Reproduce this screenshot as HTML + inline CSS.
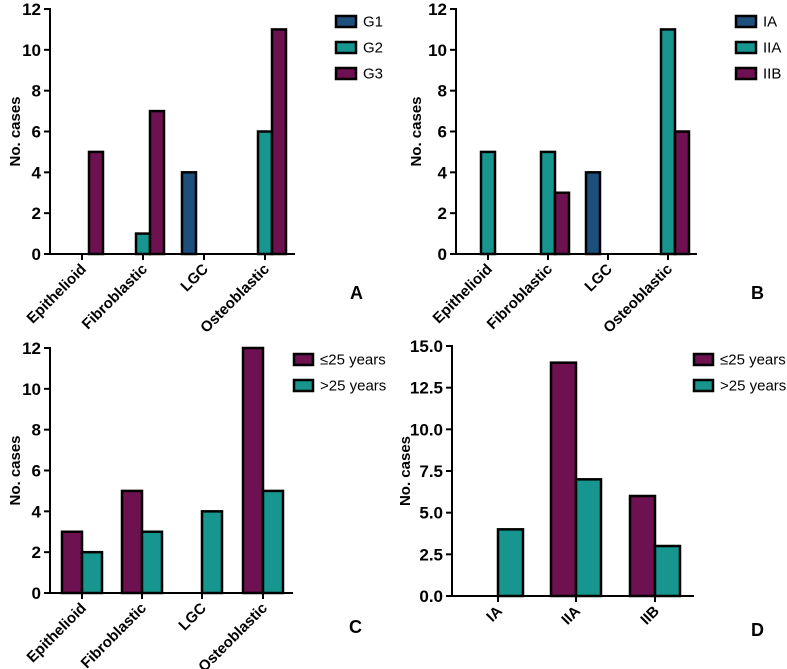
<!DOCTYPE html>
<html><head><meta charset="utf-8"><style>
html,body{margin:0;padding:0;background:#fff;}
svg{display:block;font-family:"Liberation Sans",Arial,sans-serif;}
</style></head><body>
<svg id="fig" width="787" height="669" viewBox="0 0 787 669"></svg>
<script>
const catsHist=["Epithelioid","Fibroblastic","LGC","Osteoblastic"];
const catsStage=["IA","IIA","IIB"];
const aNames=["G1","G2","G3"];
const aG1=[0,0,4,0];
const aG2=[0,1,0,6];
const aG3=[5,7,0,11];
const bNames=["IA","IIA","IIB"];
const bIA=[0,0,4,0];
const bIIA=[5,5,0,11];
const bIIB=[0,3,0,6];
const ageNames=["≤25 years",">25 years"];
const cYoung=[3,5,0,12];
const cOld=[2,3,4,5];
const dYoung=[0,14,6];
const dOld=[4,7,3];
const aTicks=[0,2,4,6,8,10,12];
const dTicks=["0.0","2.5","5.0","7.5","10.0","12.5","15.0"];

const BLUE="#1d4f7c",TEAL="#17968f",PURP="#6d1150";
const NS="http://www.w3.org/2000/svg";
const svg=document.getElementById('fig');
function el(tag,attrs,parent,text){const e=document.createElementNS(NS,tag);for(const k in attrs)e.setAttribute(k,attrs[k]);if(text!==undefined)e.textContent=text;(parent||svg).appendChild(e);return e;}

function panel(p){
  const g=el('g',{});
  
  
  const yS=v=>p.y0-(v/p.ymax)*(p.y0-p.ytop);
  p.series.forEach((s,si)=>{
    s.vals.forEach((v,ci)=>{
      if(v<=0)return;
      const x=p.ticks[ci]+p.offsets[si];
      const r=el('rect',{x:x,y:yS(v),width:p.bw,height:p.y0-yS(v),fill:s.color,stroke:'#000','stroke-width':2.5},g);
      
      
    });
  });
  const ya=el('line',{x1:p.ax,y1:p.ytop-1,x2:p.ax,y2:p.y0,stroke:'#000','stroke-width':2},g);
  
  const xa=el('line',{x1:p.ax-6,y1:p.y0,x2:p.xend,y2:p.y0,stroke:'#000','stroke-width':2},g);
  
  p.yTickVals.forEach((lab,i)=>{
    const v=parseFloat(lab);const y=yS(v);
    el('line',{x1:p.ax-6,y1:y,x2:p.ax,y2:y,stroke:'#000','stroke-width':2},g);
    const t=el('text',{x:p.ax-9,y:y+6,'text-anchor':'end','font-size':17,'font-weight':'bold'},g,lab);
    
  });
  p.cats.forEach((c,i)=>{
    const x=p.ticks[i];
    el('line',{x1:x,y1:p.y0,x2:x,y2:p.y0+6,stroke:'#000','stroke-width':2},g);
    const t=el('text',{x:x+5,y:p.y0+16,'text-anchor':'end','font-size':15,'font-weight':'bold',transform:`rotate(-45 ${x+5} ${p.y0+16})`},g,c);
    
  });
  const yt=el('text',{x:p.ytx,y:(p.y0+p.ytop)/2,'text-anchor':'middle','font-size':15,'font-weight':'bold',transform:`rotate(-90 ${p.ytx} ${(p.y0+p.ytop)/2})`},g,'No. cases');
  
  p.series.forEach((s,si)=>{
    const y=p.legY+si*p.legGap;
    const r=el('rect',{x:p.legX,y:y,width:p.legW,height:11,fill:s.color,stroke:'#000','stroke-width':2.5},g);
    
    const t=el('text',{x:p.legX+p.legW+7,y:y+10.5,'font-size':15},g,s.name);
    
  });
  const L=el('text',{x:p.lx,y:p.ly,'font-size':18,'font-weight':'bold'},g,p.letter);
  
}

panel({letter:'A',cats:catsHist,ax:50,xend:295,y0:254,ytop:9,ymax:12,ticks:[82,143,204,265],bw:14,offsets:[-22,-7,7],
  series:[{name:aNames[0],vals:aG1,color:BLUE},{name:aNames[1],vals:aG2,color:TEAL},{name:aNames[2],vals:aG3,color:PURP}],
  yTickVals:aTicks.map(String),ytx:20,legX:336,legY:16,legGap:26,legW:20,lx:350,ly:299});
panel({letter:'B',cats:catsHist,ax:456,xend:697,y0:254,ytop:9,ymax:12,ticks:[488,548,608,668],bw:14,offsets:[-22,-7,7],
  series:[{name:bNames[0],vals:bIA,color:BLUE},{name:bNames[1],vals:bIIA,color:TEAL},{name:bNames[2],vals:bIIB,color:PURP}],
  yTickVals:aTicks.map(String),ytx:421,legX:736,legY:16,legGap:26,legW:20,lx:751,ly:299});
panel({letter:'C',cats:catsHist,ax:50,xend:293,y0:593,ytop:348,ymax:12,ticks:[82,142,202,263],bw:20,offsets:[-20,0],
  series:[{name:ageNames[0],vals:cYoung,color:PURP},{name:ageNames[1],vals:cOld,color:TEAL}],
  yTickVals:aTicks.map(String),ytx:20,legX:294,legY:354,legGap:26,legW:19,lx:349,ly:633});
panel({letter:'D',cats:catsStage,ax:452,xend:694,y0:596,ytop:346,ymax:15,ticks:[498,576,655],bw:25,offsets:[-25,0],
  series:[{name:ageNames[0],vals:dYoung,color:PURP},{name:ageNames[1],vals:dOld,color:TEAL}],
  yTickVals:dTicks,ytx:410,legX:694,legY:354,legGap:26,legW:19,lx:751,ly:636});
</script>
</body></html>
